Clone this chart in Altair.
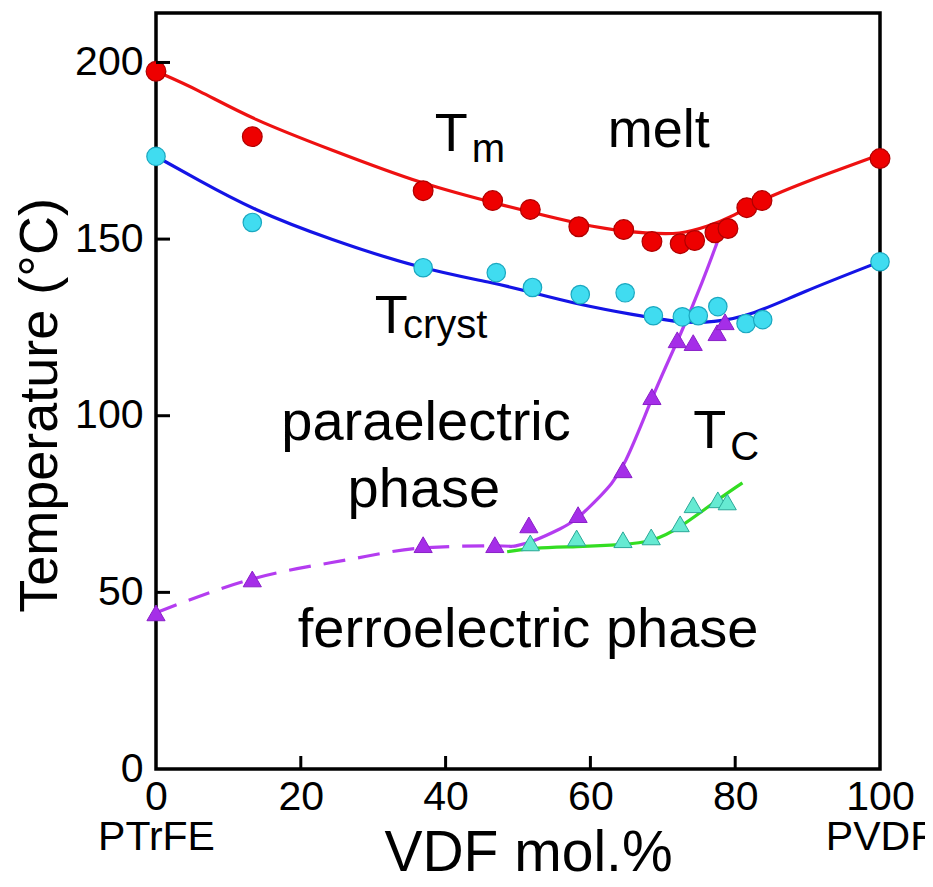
import altair as alt
import pandas as pd

# ---- measured points ----
tm_x = [0, 13.3, 36.9, 46.5, 51.7, 58.4, 64.6, 68.5, 72.4, 74.4, 77.2, 79.0, 81.6, 83.7, 100]
tm_y = [197.5, 179.0, 163.7, 160.9, 158.4, 153.5, 152.7, 149.3, 148.7, 149.6, 151.8, 153.0, 158.9, 160.9, 172.8]

tcr_x = [0, 13.3, 36.9, 47.0, 52.0, 58.6, 64.8, 68.7, 72.7, 74.9, 77.6, 81.5, 83.8, 100]
tcr_y = [173.4, 154.7, 141.9, 140.5, 136.3, 134.3, 134.8, 128.3, 128.0, 128.3, 130.9, 126.1, 127.2, 143.6]

heat_x = [0, 13.3, 36.9, 46.8, 51.5, 58.3, 64.5, 68.5, 72.0, 74.2, 77.5, 78.6]
heat_y = [44.2, 53.8, 63.5, 63.5, 69.1, 72.0, 84.7, 105.4, 121.5, 120.7, 123.5, 126.6]

cool_x = [51.7, 58.1, 64.5, 68.4, 72.4, 74.2, 77.6, 78.9]
cool_y = [64.0, 65.4, 64.9, 65.7, 69.4, 74.8, 76.2, 75.6]

# ---- fitted curves ----
tm_fit_x = [0, 5.7, 13.3, 24.0, 36.9, 47.5, 61.3, 68.0, 72.4, 76.1, 79.7, 84.4, 93.5, 100]
tm_fit_y = [197.5, 192.4, 183.9, 175.4, 165.4, 159.8, 152.7, 151.6, 151.3, 153.5, 156.4, 162.0, 169.1, 173.9]

tcr_fit_x = [0, 5.7, 13.3, 24.0, 36.9, 47.0, 52.1, 58.6, 65.9, 72.4, 76.9, 82.5, 89.0, 100]
tcr_fit_y = [173.4, 166.9, 158.4, 149.9, 141.4, 137.5, 134.8, 131.4, 128.6, 126.3, 126.3, 128.6, 134.8, 143.6]

heat_fit_x = [49.3, 51.7, 56.2, 58.1, 61.3, 64.5, 68.6, 72.7, 75.6, 77.5]
heat_fit_y = [63.0, 64.0, 68.3, 70.5, 77.1, 83.9, 106.0, 124.0, 138.5, 149.0]

cool_fit_x = [48.5, 52.0, 58.1, 64.5, 68.6, 72.4, 77.0, 81.0]
cool_fit_y = [61.5, 62.6, 62.9, 63.5, 64.3, 68.3, 75.4, 81.0]

dash_x = [0, 13.3, 26.4, 36.9, 47.0, 49.3]
dash_y = [44.2, 53.8, 59.2, 62.6, 63.2, 63.0]

x_ticks = [0, 20, 40, 60, 80, 100]
y_ticks = [0, 50, 100, 150, 200]
inner_x_ticks = [20, 40, 60, 80]
inner_y_ticks = [50, 100, 150, 200]

big_left_text = ["T", "melt", "T", "T"]
big_left_x = [38.5, 62.4, 30.2, 74.2]
big_left_y = [174.8, 176.2, 123.5, 90.9]

sub_text = ["m", "cryst", "C"]
sub_x = [43.6, 34.1, 79.3]
sub_y = [171.7, 122.1, 87.5]

center_text = ["paraelectric", "phase", "ferroelectric phase"]
center_x = [37.3, 37.0, 51.4]
center_y = [93.2, 74.2, 34.6]

FONT = "Liberation Sans"
W, H = 724, 756

xs = alt.Scale(domain=[0, 100], nice=False, zero=False)
ys = alt.Scale(domain=[0, 214], nice=False, zero=False)

xaxis = alt.Axis(
    values=x_ticks, title="VDF mol.%",
    labelExpr="datum.value == 0 ? ['0', 'PTrFE'] : datum.value == 100 ? ['100', 'PVDF'] : datum.label",
    labelPadding=8, labelLineHeight=40, labelFlush=False, labelOverlap=False, labelBound=False,
    titleFontSize=57, titleX=372, titleY=101, titleBaseline="alphabetic", titleAlign="center",
    titleFontWeight="normal",
)
yaxis = alt.Axis(
    values=y_ticks, title="Temperature (°C)", labelPadding=13, labelOverlap=False,
    labelFlush=False, labelBound=False,
    titleFontSize=54, titleX=-100, titleY=392, titleAngle=270, titleBaseline="alphabetic",
    titleAlign="center", titleFontWeight="normal",
)


def X(f):
    return alt.X(f, type="quantitative", scale=xs, axis=xaxis)


def Y(f):
    return alt.Y(f, type="quantitative", scale=ys, axis=yaxis)


def df(xv, yv):
    return pd.DataFrame({"x": xv, "y": yv})


def curve(xv, yv, color, dash=None, interp="monotone"):
    kw = dict(color=color, strokeWidth=3.2, interpolate=interp)
    if dash:
        kw["strokeDash"] = dash
    return alt.Chart(df(xv, yv)).mark_line(**kw).encode(x=X("x"), y=Y("y"))


layers = [
    curve(tm_fit_x, tm_fit_y, "#ee1111", interp="basis"),
    curve(tcr_fit_x, tcr_fit_y, "#1414e6", interp="basis"),
    curve(dash_x, dash_y, "#b43cf0", dash=[22, 13]),
    curve(cool_fit_x, cool_fit_y, "#33dd22", interp="basis"),
    curve(heat_fit_x, heat_fit_y, "#b43cf0", interp="basis"),
    alt.Chart(df(tm_x, tm_y)).mark_point(
        shape="circle", filled=True, size=390, color="#ee0000", stroke="#b00000", strokeWidth=1.2, opacity=1
    ).encode(x=X("x"), y=Y("y")),
    alt.Chart(df(tcr_x, tcr_y)).mark_point(
        shape="circle", filled=True, size=340, color="#40dcf0", stroke="#1aa8c0", strokeWidth=1.2, opacity=1
    ).encode(x=X("x"), y=Y("y")),
    alt.Chart(df(heat_x, heat_y)).mark_point(
        shape="triangle-up", filled=True, size=330, color="#a52ee8", stroke="#8a20c8", strokeWidth=1, opacity=1
    ).encode(x=X("x"), y=Y("y")),
    alt.Chart(df(cool_x, cool_y)).mark_point(
        shape="triangle-up", filled=True, size=330, color="#66ead2", stroke="#2aa898", strokeWidth=1, opacity=1
    ).encode(x=X("x"), y=Y("y")),
    # inward ticks
    alt.Chart(pd.DataFrame({"x": inner_x_ticks})).mark_rule(color="black", strokeWidth=3).encode(
        x=X("x"), y=alt.value(H), y2=alt.value(H - 13)
    ),
    alt.Chart(pd.DataFrame({"y": inner_y_ticks})).mark_rule(color="black", strokeWidth=3).encode(
        y=Y("y"), x=alt.value(0), x2=alt.value(14)
    ),
    # annotations
    alt.Chart(pd.DataFrame({"x": big_left_x, "y": big_left_y, "t": big_left_text})).mark_text(
        font=FONT, fontSize=54, align="left", baseline="alphabetic", color="black"
    ).encode(x=X("x"), y=Y("y"), text="t:N"),
    alt.Chart(pd.DataFrame({"x": sub_x, "y": sub_y, "t": sub_text})).mark_text(
        font=FONT, fontSize=40, align="left", baseline="alphabetic", color="black"
    ).encode(x=X("x"), y=Y("y"), text="t:N"),
    alt.Chart(pd.DataFrame({"x": center_x, "y": center_y, "t": center_text})).mark_text(
        font=FONT, fontSize=56, align="center", baseline="alphabetic", color="black"
    ).encode(x=X("x"), y=Y("y"), text="t:N"),
]

chart = (
    alt.layer(*layers)
    .properties(
        width=W, height=H,
        autosize=alt.AutoSizeParams(type="none"),
        padding={"left": 148, "top": 5, "right": 45, "bottom": 108},
        background="white",
    )
    .configure_view(stroke="black", strokeWidth=3.5)
    .configure_axis(
        domain=False, ticks=False, tickSize=0, grid=False,
        labelFont=FONT, labelFontSize=41, labelColor="black",
        titleFont=FONT, titleColor="black",
    )
)

chart.save("out.html", embed_options={"renderer": "svg", "actions": False})
